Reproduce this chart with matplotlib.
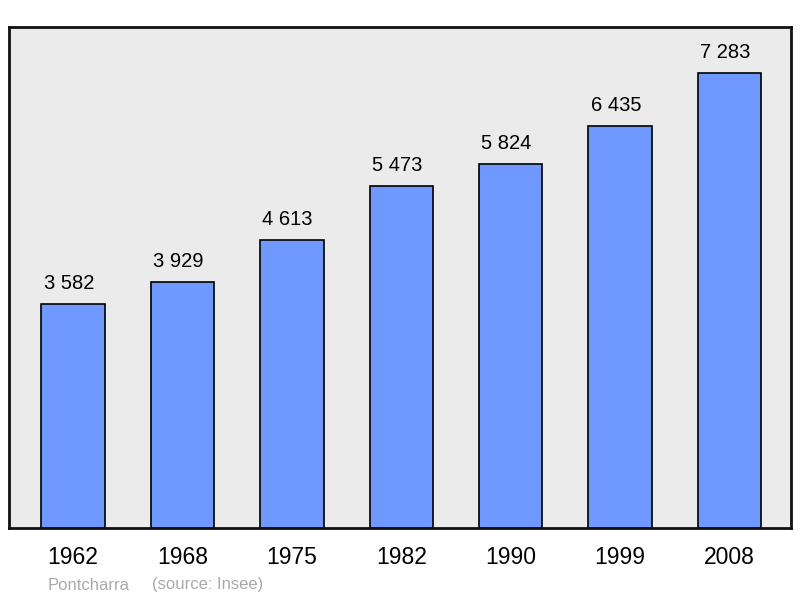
import matplotlib.pyplot as plt

years = ["1962", "1968", "1975", "1982", "1990", "1999", "2008"]
population = [3582, 3929, 4613, 5473, 5824, 6435, 7283]
value_labels = ["3 582", "3 929", "4 613", "5 473", "5 824", "6 435", "7 283"]
town = "Pontcharra"
source = "(source: Insee)"

plt.rcParams['font.family'] = ['Liberation Sans', 'DejaVu Sans']

W, H = 800, 598
fig = plt.figure(figsize=(W / 100, H / 100), dpi=100)
ax = fig.add_axes([9 / W, (H - 528) / H, 782 / W, 501 / H])
ax.set_facecolor('#ebebeb')

x = list(range(len(years)))
ax.bar(x, population, width=0.58, color='#7099ff', edgecolor='black',
       linewidth=1.2, zorder=2)
# value labels sit a little left of the bar centre, like the original
for xi, v, lab in zip(x, population, value_labels):
    ax.annotate(lab, (xi, v), xytext=(-3, 8), textcoords='offset points',
                ha='center', va='bottom', fontsize=14.5)

ax.set_xlim(-0.586, 6.563)
ax.set_ylim(0, 8016)
ax.set_xticks(x)
ax.set_xticklabels(years, fontsize=16.5)
ax.tick_params(axis='x', length=0, pad=13)
ax.set_yticks([])
for s in ax.spines.values():
    s.set_linewidth(2)
    s.set_color('#111111')

fig.text(48 / W, 1 - 585 / H, town, color='#aaaaaa', fontsize=12, va='center')
fig.text(152 / W, 1 - 585 / H, source, color='#aaaaaa', fontsize=12, va='center')

fig.savefig('out.png', dpi=100)
